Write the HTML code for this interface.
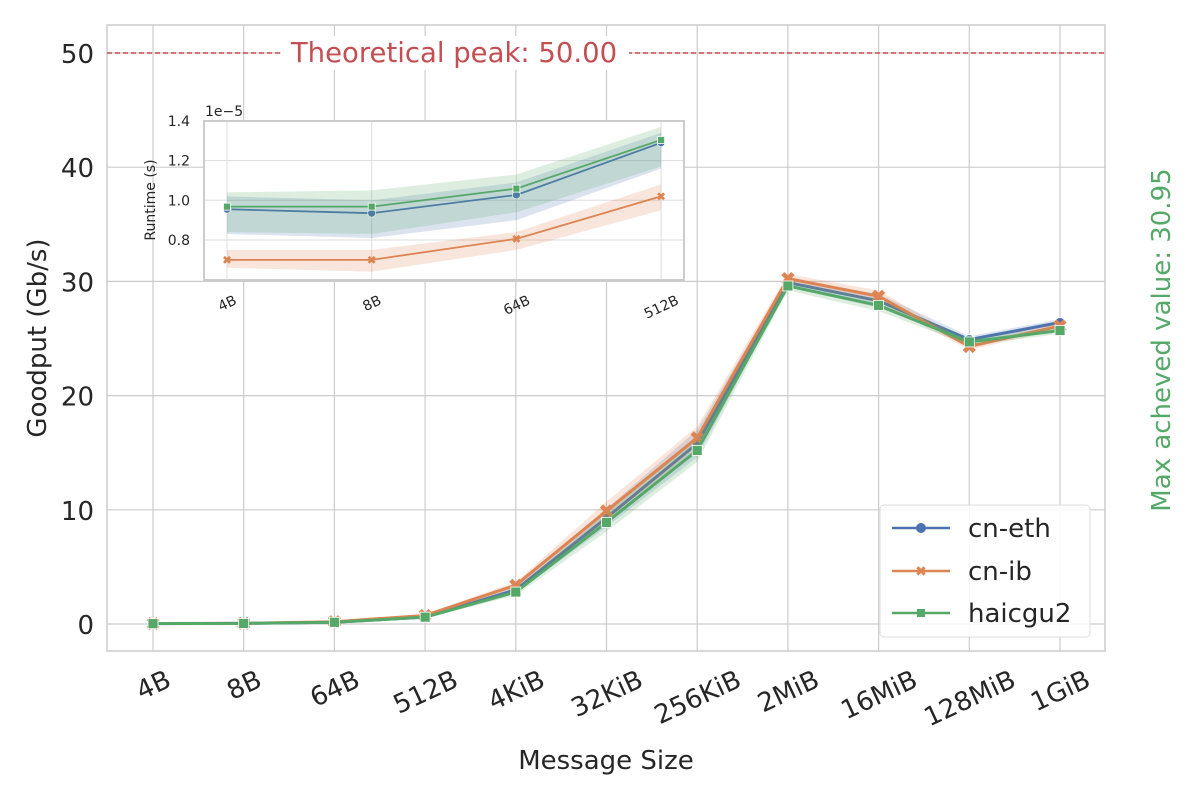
<!DOCTYPE html>
<html><head><meta charset="utf-8"><style>
html,body{margin:0;padding:0;background:#fff;}
svg{display:block;font-family:"DejaVu Sans","Liberation Sans",sans-serif;}
</style></head><body>
<svg id="chart" width="1200" height="800" viewBox="0 0 1200 800">
<g id="main-grid"></g>
<g id="main-marks"></g>
<rect x="107" y="25" width="998" height="626" fill="none" stroke="#cccccc" stroke-width="1.5"/>
<g id="main-ticks"></g>
<text x="46" y="338" font-size="26" fill="#262626" text-anchor="middle" transform="rotate(-90 46 338)">Goodput (Gb/s)</text>
<text x="606" y="769" font-size="26" fill="#262626" text-anchor="middle">Message Size</text>
<text x="1170" y="340" font-size="26" fill="#55a868" text-anchor="middle" transform="rotate(-90 1170 340)">Max acheved value: 30.95</text>
<line x1="107" y1="53" x2="1105" y2="53" stroke="#c44e52" stroke-width="1.5" stroke-dasharray="5,3"/>
<rect x="281" y="36" width="348" height="34" fill="#fff"/>
<text x="454" y="62" font-size="27.5" fill="#c44e52" text-anchor="middle">Theoretical peak: 50.00</text>
<g>
<rect x="880" y="505" width="210" height="132" rx="4" fill="#fff" fill-opacity="0.85" stroke="#dddddd"/>
<line x1="892" y1="528" x2="950" y2="528" stroke="#4c72b0" stroke-width="2.5"/>
<circle cx="921" cy="528" r="5" fill="#4c72b0"/>
<text x="968" y="537" font-size="26" fill="#262626">cn-eth</text>
<line x1="892" y1="571" x2="950" y2="571" stroke="#dd8452" stroke-width="2.5"/>
<text x="921" y="576" font-size="14" font-weight="bold" fill="#dd8452" text-anchor="middle">✖</text>
<text x="968" y="580" font-size="26" fill="#262626">cn-ib</text>
<line x1="892" y1="613" x2="950" y2="613" stroke="#55a868" stroke-width="2.5"/>
<rect x="917" y="609" width="8" height="8" fill="#55a868"/>
<text x="968" y="622" font-size="26" fill="#262626">haicgu2</text>
</g>
<g id="inset">
<rect x="204" y="121" width="480" height="159" fill="#fff"/>
<g id="inset-grid"></g>
<g id="inset-marks"></g>
<rect x="204" y="121" width="480" height="159" fill="none" stroke="#cccccc" stroke-width="2"/>
<g id="inset-ticks"></g>
<text x="155" y="200" font-size="14" fill="#262626" text-anchor="middle" transform="rotate(-90 155 200)">Runtime (s)</text>
<text x="205" y="116" font-size="14" fill="#262626">1e−5</text>
</g>
</svg>
<script>
const categories = ["4B","8B","64B","512B","4KiB","32KiB","256KiB","2MiB","16MiB","128MiB","1GiB"];
const yTicks = [0,10,20,30,40,50];
const ethVals = [0.03,0.05,0.15,0.6,3.0,9.3,15.8,29.9,28.3,24.9,26.4];
const ibVals  = [0.04,0.06,0.2,0.75,3.4,9.9,16.3,30.25,28.7,24.3,26.1];
const hgVals  = [0.03,0.05,0.15,0.6,2.8,8.9,15.2,29.6,27.9,24.7,25.7];
const ethErr = [0.05,0.05,0.05,0.1,0.3,0.8,1.2,0.4,0.6,0.3,0.3];
const ibErr  = [0.05,0.05,0.05,0.1,0.3,0.8,1.0,0.4,0.5,0.3,0.3];
const hgErr  = [0.05,0.05,0.05,0.1,0.3,0.8,1.0,0.4,0.5,0.3,0.3];

const insetCats = ["4B","8B","64B","512B"];
const insetTicks = [0.8,1.0,1.2,1.4];
const insEth = [0.955,0.935,1.027,1.29];
const insEthLo = [0.83,0.81,0.90,1.16];
const insEthHi = [1.02,1.00,1.09,1.34];
const insIb = [0.70,0.70,0.806,1.02];
const insIbLo = [0.66,0.64,0.75,0.95];
const insIbHi = [0.75,0.75,0.84,1.08];
const insHg = [0.968,0.968,1.059,1.304];
const insHgLo = [0.84,0.83,0.94,1.17];
const insHgHi = [1.04,1.05,1.13,1.37];

const NS="http://www.w3.org/2000/svg";
function mk(tag,attrs,parent){const e=document.createElementNS(NS,tag);for(const k in attrs)e.setAttribute(k,attrs[k]);parent.appendChild(e);return e;}
const C={eth:"#4c72b0",ib:"#dd8452",hg:"#55a868"};
const ANG=25*Math.PI/180;
function rotLabel(parent,cx,top,txt,fs,name){
  const tx=mk('text',{x:cx,y:0,'font-size':fs,fill:'#262626','text-anchor':'middle'},parent);
  tx.textContent=txt;
  
  
  const w=tx.getComputedTextLength(), h=fs*0.75;
  const cy=top+(w*Math.sin(ANG)+h*Math.cos(ANG))/2;
  tx.setAttribute('y',cy+h/2);
  tx.setAttribute('transform',`rotate(-25 ${cx} ${cy})`);
}

const mx=i=>153+i*90.7;
const my=v=>624-v*11.42;
const mg=document.getElementById('main-grid'), mm=document.getElementById('main-marks'), mt=document.getElementById('main-ticks');
yTicks.forEach(t=>{
  const l=mk('line',{x1:107,x2:1105,y1:my(t),y2:my(t),stroke:'#cccccc','stroke-width':1.2},mg);
  
  
  const tx=mk('text',{x:94,y:my(t)+10,'font-size':26,fill:'#262626','text-anchor':'end'},mt);
  tx.textContent=t;
  
  
});
categories.forEach((c,i)=>{
  const l=mk('line',{x1:mx(i),x2:mx(i),y1:25,y2:651,stroke:'#cccccc','stroke-width':1.2},mg);
  
  
  rotLabel(mt,mx(i),668,c,26,'x-tick-label');
});
function series(g,xf,yf,vals,lo,hi,col,kind,name,ms,lw){
  let up=vals.map((v,i)=>`${xf(i)},${yf(hi[i])}`).join(' ');
  let dn=vals.map((v,i)=>`${xf(i)},${yf(lo[i])}`).reverse().join(' ');
  const b=mk('polygon',{points:up+' '+dn,fill:col,'fill-opacity':0.2,stroke:'none'},g);
  
  
  const p=mk('polyline',{points:vals.map((v,i)=>`${xf(i)},${yf(v)}`).join(' '),fill:'none',stroke:col,'stroke-width':lw},g);
  
  
  vals.forEach((v,i)=>{
    const x=xf(i),y=yf(v);let m;
    if(kind==='c') m=mk('circle',{cx:x,cy:y,r:ms,fill:col,stroke:'#fff','stroke-width':0.8},g);
    else if(kind==='s') m=mk('rect',{x:x-ms,y:y-ms,width:2*ms,height:2*ms,fill:col,stroke:'#fff','stroke-width':0.8},g);
    else m=mk('path',{d:`M${x-ms},${y-ms}L${x+ms},${y+ms}M${x+ms},${y-ms}L${x-ms},${y+ms}`,stroke:col,'stroke-width':ms*0.9,fill:'none'},g);
    
    
  });
}
const lo=(v,e)=>v.map((x,i)=>x-e[i]), hi=(v,e)=>v.map((x,i)=>x+e[i]);
series(mm,mx,my,ethVals,lo(ethVals,ethErr),hi(ethVals,ethErr),C.eth,'c','cn-eth',5,3);
series(mm,mx,my,ibVals,lo(ibVals,ibErr),hi(ibVals,ibErr),C.ib,'x','cn-ib',5,3);
series(mm,mx,my,hgVals,lo(hgVals,hgErr),hi(hgVals,hgErr),C.hg,'s','haicgu2',5,3);

const ix=i=>227+i*144.7;
const iy=v=>240-(v-0.8)*198.5;
const ig=document.getElementById('inset-grid'), im=document.getElementById('inset-marks'), it=document.getElementById('inset-ticks');
insetTicks.forEach(t=>{
  const l=mk('line',{x1:204,x2:684,y1:iy(t),y2:iy(t),stroke:'#dddddd','stroke-width':1},ig);
  
  
  const tx=mk('text',{x:190,y:iy(t)+5,'font-size':14,fill:'#262626','text-anchor':'end'},it);
  tx.textContent=t.toFixed(1);
  
  
});
insetCats.forEach((c,i)=>{
  const l=mk('line',{x1:ix(i),x2:ix(i),y1:121,y2:280,stroke:'#dddddd','stroke-width':1},ig);
  
  
  rotLabel(it,ix(i),294,c,14,'inset-x-tick-label');
});
series(im,ix,iy,insEth,insEthLo,insEthHi,C.eth,'c','inset-cn-eth',4,1.8);
series(im,ix,iy,insIb,insIbLo,insIbHi,C.ib,'x','inset-cn-ib',3,1.8);
series(im,ix,iy,insHg,insHgLo,insHgHi,C.hg,'s','inset-haicgu2',3.5,1.8);
</script>
</body></html>
